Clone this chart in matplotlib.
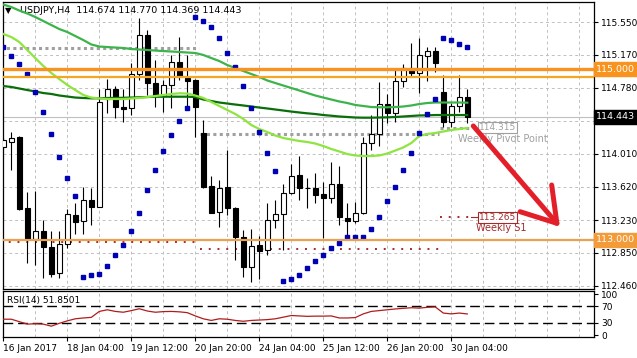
import matplotlib
matplotlib.use("Agg")
import matplotlib.pyplot as plt
import matplotlib.transforms as mtransforms
from matplotlib.patches import Rectangle

# ---- data (H4 bars, index 0 = 16 Jan 20:00) ----
symbol = "USDJPY,H4"
opens = [114.092, 114.151, 114.209, 113.370, 113.014, 113.104, 112.920, 112.608, 112.948, 113.292,
         113.221, 113.467, 113.389, 114.651, 114.765, 114.557, 114.542, 114.944, 115.401, 114.835,
         114.690, 114.815, 115.088, 114.893, 114.874, 114.249, 113.631, 113.330, 113.616, 113.370,
         113.037, 112.686, 112.940, 112.881, 113.233, 113.300, 113.546, 113.760, 113.607, 113.605,
         113.538, 113.487, 113.655, 113.253, 113.226, 113.312, 114.139, 114.237, 114.592, 114.490,
         114.862, 115.011, 114.959, 115.158, 115.213, 114.736, 114.385, 114.569, 114.674]
highs = [114.209, 114.268, 114.215, 113.558, 113.573, 113.233, 113.104, 113.104, 113.358, 113.436,
         113.623, 113.604, 114.765, 114.885, 114.803, 114.765, 115.076, 115.597, 115.459, 115.108,
         114.874, 115.167, 115.381, 115.167, 114.880, 114.405, 113.749, 113.702, 114.053, 113.380,
         113.116, 113.124, 113.046, 113.429, 113.467, 113.655, 113.886, 113.983, 113.722, 113.780,
         113.682, 113.916, 113.869, 113.436, 113.447, 114.209, 114.463, 114.854, 114.706, 115.011,
         115.061, 115.304, 115.362, 115.264, 115.264, 114.932, 114.601, 114.932, 114.770]
lows = [114.053, 113.819, 113.355, 112.726, 112.706, 112.550, 112.569, 112.550, 112.901, 113.065,
        113.065, 113.175, 113.380, 114.483, 114.425, 114.385, 114.463, 114.874, 114.698, 114.561,
        114.502, 114.542, 114.874, 114.542, 114.209, 113.605, 113.312, 113.155, 113.292, 112.764,
        112.569, 112.510, 112.538, 112.823, 113.143, 112.881, 113.540, 113.467, 113.370, 113.436,
        113.019, 113.436, 113.175, 113.019, 113.201, 113.300, 114.053, 114.100, 114.373, 114.385,
        114.788, 114.920, 114.725, 114.862, 114.971, 114.326, 114.319, 114.502, 114.369]
closes = [114.170, 114.197, 113.362, 113.010, 113.104, 112.920, 112.600, 112.948, 113.300, 113.213,
          113.467, 113.389, 114.619, 114.765, 114.554, 114.538, 114.944, 115.401, 114.835, 114.698,
          114.815, 115.088, 114.920, 114.865, 114.561, 113.616, 113.319, 113.612, 113.370, 113.037,
          112.686, 112.932, 112.873, 113.233, 113.300, 113.546, 113.749, 113.605, 113.603, 113.526,
          113.487, 113.655, 113.265, 113.226, 113.312, 114.139, 114.237, 114.592, 114.490, 114.862,
          115.018, 114.959, 115.167, 115.213, 115.069, 114.385, 114.569, 114.671, 114.443]

ma_fast = [115.413, 115.377, 115.319, 115.225, 115.131, 115.038, 114.956, 114.885, 114.815, 114.756,
           114.698, 114.668, 114.657, 114.651, 114.651, 114.651, 114.657, 114.663, 114.674, 114.686,
           114.698, 114.710, 114.718, 114.715, 114.692, 114.663, 114.616, 114.569, 114.522, 114.475,
           114.417, 114.346, 114.299, 114.264, 114.223, 114.194, 114.176, 114.159, 114.147, 114.129,
           114.100, 114.065, 114.036, 114.006, 113.989, 113.983, 113.983, 113.989, 114.012, 114.047,
           114.083, 114.135, 114.217, 114.241, 114.252, 114.270, 114.288, 114.299, 114.311]
ma_mid = [115.758, 115.729, 115.688, 115.653, 115.612, 115.565, 115.518, 115.471, 115.436, 115.389,
          115.342, 115.290, 115.266, 115.260, 115.254, 115.249, 115.237, 115.231, 115.225, 115.219,
          115.213, 115.208, 115.202, 115.196, 115.190, 115.167, 115.131, 115.096, 115.049, 115.014,
          114.979, 114.944, 114.909, 114.868, 114.838, 114.809, 114.780, 114.751, 114.721, 114.692,
          114.668, 114.645, 114.622, 114.604, 114.581, 114.569, 114.557, 114.554, 114.554, 114.557,
          114.563, 114.575, 114.592, 114.604, 114.610, 114.610, 114.610, 114.610, 114.608]
ma_slow = [114.803, 114.792, 114.774, 114.756, 114.739, 114.721, 114.710, 114.692, 114.680, 114.668,
           114.663, 114.659, 114.659, 114.663, 114.663, 114.665, 114.668, 114.671, 114.674, 114.677,
           114.678, 114.678, 114.678, 114.678, 114.674, 114.645, 114.627, 114.610, 114.598, 114.586,
           114.575, 114.563, 114.551, 114.540, 114.528, 114.516, 114.504, 114.493, 114.483, 114.475,
           114.463, 114.455, 114.446, 114.440, 114.434, 114.432, 114.432, 114.434, 114.436, 114.440,
           114.446, 114.452, 114.458, 114.460, 114.463, 114.463, 114.463, 114.463, 114.463]
sar = [115.264, 115.158, 115.061, 114.940, 114.733, 114.502, 114.237, 113.975, 113.729, 113.514,
       112.569, 112.589, 112.600, 112.698, 112.823, 112.940, 113.104, 113.312, 113.585, 113.819,
       114.042, 114.229, 114.393, 114.542, 115.615, 115.568, 115.498, 115.369, 115.193, 115.029,
       114.803, 114.549, 114.268, 114.022, 113.807, 112.518, 112.542, 112.589, 112.674, 112.756,
       112.823, 112.901, 112.967, 113.030, 113.030, 113.030, 113.128, 113.265, 113.456, 113.616,
       113.819, 114.015, 114.249, 114.472, 114.651, 115.369, 115.339, 115.299, 115.260]
rsi = [39, 39, 33, 27, 28, 27, 22, 29, 35, 40,
       42, 43.5, 58, 62, 58, 56, 60, 64.5, 59, 56,
       57.5, 58, 57, 55, 47, 40, 36, 40, 39, 36,
       34, 36, 37, 38, 40, 44, 48, 47, 46, 46.5,
       46.5, 47, 42, 42, 43, 52, 58, 60, 62, 64,
       65.5, 67, 66, 68, 69, 54, 52, 54, 51.85]
rsi_label = "RSI(14) 51.8501"

# weekly pivot / S1 levels: (first bar, last bar, price)
pivot_weeks = [(0, 24, 115.245), (25, 54, 114.238), (55, 58, 114.315)]
s1_weeks = [(0, 24, 112.979), (25, 54, 112.890), (55, 58, 113.265)]
key_levels = [115.000, 114.913, 113.000]

price_ticks = [112.460, 112.850, 113.230, 113.620, 114.010, 114.390, 114.780, 115.170, 115.550]
date_bars = [0, 8, 16, 24, 32, 40, 48, 56]
date_labels = ["16 Jan 2017", "18 Jan 04:00", "19 Jan 12:00", "20 Jan 20:00",
               "24 Jan 04:00", "25 Jan 12:00", "26 Jan 20:00", "30 Jan 04:00"]
last_price = 114.443

plt.rcParams['font.family'] = ['DejaVu Sans']
FS = 6.5

fig = plt.figure(figsize=(6.37, 3.58), dpi=100)
ax = fig.add_axes([3 / 637, 1 - 289 / 358, 591 / 637, 287 / 358])
rsi_ax = fig.add_axes([3 / 637, 1 - 337 / 358, 591 / 637, 46 / 358])

n = len(opens)
xlim = (-0.04, 73.84)
grid_kw = dict(color='#c0c0c0', lw=0.7, linestyle=(0, (3, 3)))

for a in (ax, rsi_ax):
    a.set_xlim(*xlim)
    a.set_xticks(date_bars)
    a.set_xticks(range(0, 74, 4), minor=True)
    a.tick_params(axis='x', which='minor', length=0)
    a.tick_params(axis='x', which='major', length=3, width=0.8, labelsize=FS, pad=2)
    a.grid(True, axis='x', which='both', **grid_kw)
    a.yaxis.tick_right()
    a.tick_params(axis='y', length=3, width=0.8, labelsize=FS, pad=2)
    for s in a.spines.values():
        s.set_linewidth(0.9)
    a.set_axisbelow(True)

# ---- main price panel ----
ax.set_ylim(112.424, 115.788)
ax.set_yticks(price_ticks)
# the 114.390 label sits under the current-price box on the original
ax.set_yticklabels(["" if abs(v - last_price) < 0.1 else f"{v:.3f}" for v in price_ticks])
ax.grid(True, axis='y', **grid_kw)
ax.tick_params(axis='x', labelbottom=False, length=0)

ax.axhline(last_price, color='#c0c0c0', lw=0.8, zorder=1)

for i in range(n):
    o, h, l, c = opens[i], highs[i], lows[i], closes[i]
    ax.vlines(i, l, h, color='black', lw=0.8, zorder=3)
    bottom = min(o, c)
    height = max(abs(c - o), 0.008)
    face = 'white' if c > o else 'black'
    ax.add_patch(Rectangle((i - 0.28, bottom), 0.56, height, facecolor=face,
                           edgecolor='black', lw=0.8, zorder=4))

for start, end, level in pivot_weeks:
    ax.plot([start - 0.4, end + 0.5], [level, level], color='#a0a0a0', lw=2.2,
            linestyle=(0, (1, 1.1)), zorder=2)
for start, end, level in s1_weeks:
    ax.plot([start - 0.4, end + 0.5], [level, level], color='#a52a2a', lw=1.4,
            linestyle=(0, (1, 3.5)), zorder=2)

bars = list(range(n))
ax.plot(bars, ma_mid, color='#3cb44b', lw=1.6, zorder=6)
ax.plot(bars, ma_slow, color='#0a6e0a', lw=1.6, zorder=6)
ax.plot(bars, ma_fast, color='#8ee53f', lw=1.6, zorder=6)
ax.plot(bars, sar, linestyle='none', marker='s', ms=2.3, color='#0000b4', zorder=7)

ax.axhline(key_levels[0], color='#f7931e', lw=2.4, zorder=8)
ax.axhline(key_levels[1], color='#f5a623', lw=1.6, zorder=8)
ax.axhline(key_levels[2], color='#eba250', lw=1.6, zorder=8)

# pivot labels
ax.text(59.4, 114.315, "114.315", fontsize=6.5, color='#a0a0a0', va='center', ha='left', zorder=9,
        bbox=dict(boxstyle='square,pad=0.1', fc='white', ec='#a0a0a0', lw=0.8))
ax.text(56.8, 114.186, "Weekly Pivot Point", fontsize=7, color='#a0a0a0', va='center', ha='left', zorder=9)
ax.plot([58.5, 59.4], [113.265, 113.265], color='#a52a2a', lw=0.8, zorder=9)
ax.text(59.4, 113.265, "113.265", fontsize=6.5, color='#a52a2a', va='center', ha='left', zorder=9,
        bbox=dict(boxstyle='square,pad=0.1', fc='white', ec='#a52a2a', lw=0.8))
ax.text(59.1, 113.142, "Weekly S1", fontsize=7, color='#a52a2a', va='center', ha='left', zorder=9)

# hand-drawn arrow
arrow_start = (58.75, 114.335)
arrow_tip = (69.2, 113.194)
wing_left = (64.6, 113.330)
wing_right = (68.55, 113.643)
red = '#e3202a'
ax.plot([arrow_start[0], arrow_tip[0]], [arrow_start[1], arrow_tip[1]], color=red, lw=3.6,
        solid_capstyle='round', zorder=10)
ax.plot([wing_left[0], arrow_tip[0], wing_right[0]], [wing_left[1], arrow_tip[1], wing_right[1]],
        color=red, lw=3.6, solid_capstyle='round', solid_joinstyle='round', zorder=10)

# right-axis value boxes
trans = mtransforms.blended_transform_factory(ax.transAxes, ax.transData)
ax.text(1.004, key_levels[0], "115.000", transform=trans, fontsize=FS + 0.3, color='white',
        va='center', ha='left', zorder=12, clip_on=False,
        bbox=dict(boxstyle='square,pad=0.25', fc='#f7931e', ec='#f7931e'))
ax.text(1.004, key_levels[2], "113.000", transform=trans, fontsize=FS + 0.3, color='white',
        va='center', ha='left', zorder=12, clip_on=False,
        bbox=dict(boxstyle='square,pad=0.25', fc='#f29b38', ec='#f29b38'))
ax.text(1.004, last_price, f"{last_price:.3f}", transform=trans, fontsize=FS + 0.3, color='white',
        va='center', ha='left', zorder=12, clip_on=False,
        bbox=dict(boxstyle='square,pad=0.25', fc='black', ec='black'))

# header
ax.text(0.004, 0.972, "\u25bc", transform=ax.transAxes, fontsize=6, va='center', ha='left')
ax.text(0.029, 0.972, f"{symbol}  {opens[-1]:.3f} {highs[-1]:.3f} {lows[-1]:.3f} {closes[-1]:.3f}",
        transform=ax.transAxes, fontsize=FS + 0.3, va='center', ha='left')

# ---- RSI panel ----
rsi_ax.plot(bars, rsi, color='#b01c1c', lw=0.9, zorder=4)
for lvl in (70, 30):
    rsi_ax.axhline(lvl, color='black', lw=1.0, linestyle=(0, (7, 3.5)), zorder=3)
rsi_ax.set_ylim(-4.4, 107.8)
rsi_ax.set_yticks([0, 30, 70, 100])
rsi_ax.set_yticklabels(["0", "30", "70", "100"])
rsi_ax.set_xticklabels(date_labels, ha='left')
rsi_ax.text(0.007, 0.8, rsi_label, transform=rsi_ax.transAxes, fontsize=FS, va='center', ha='left')

fig.savefig("out.png", dpi=100)
